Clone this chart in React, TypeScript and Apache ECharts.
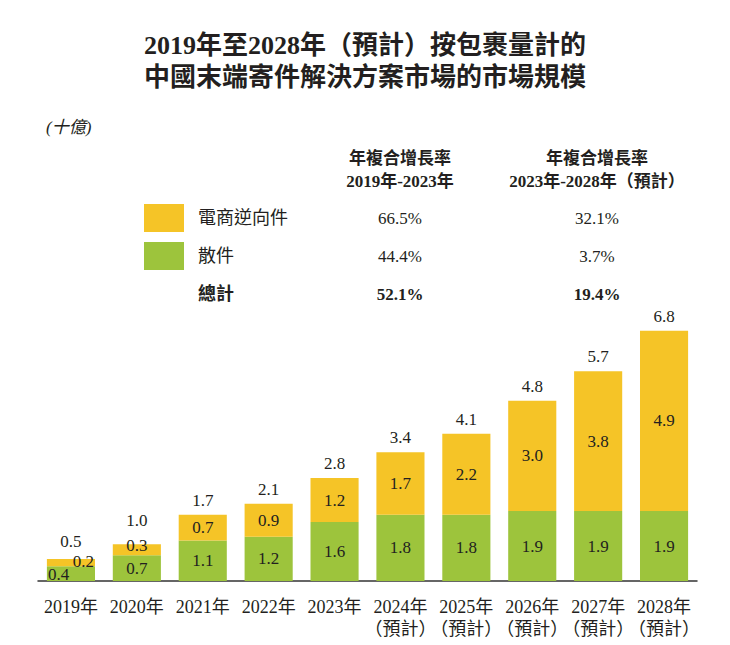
import React, { useEffect, useRef } from "react";
import * as echarts from "echarts";

const categories = ["2019年", "2020年", "2021年", "2022年", "2023年", "2024年\n（預計）", "2025年\n（預計）", "2026年\n（預計）", "2027年\n（預計）", "2028年\n（預計）"];
const parcelValues = [0.4, 0.7, 1.1, 1.2, 1.6, 1.8, 1.8, 1.9, 1.9, 1.9];
const ecomReturnValues = [0.2, 0.3, 0.7, 0.9, 1.2, 1.7, 2.2, 3.0, 3.8, 4.9];
const totals = ["0.5", "1.0", "1.7", "2.1", "2.8", "3.4", "4.1", "4.8", "5.7", "6.8"];

const seriesNames = ["電商逆向件", "散件"];
const cagrHeaders = [["年複合增長率", "2019年-2023年"], ["年複合增長率", "2023年-2028年（預計）"]];
const cagrEcom = ["66.5%", "32.1%"];
const cagrParcel = ["44.4%", "3.7%"];
const cagrTotal = ["52.1%", "19.4%"];

const YELLOW = "#F5C427";
const GREEN = "#9DC43C";
const TEXT = "#231F20";
const SERIF = "'Liberation Serif', 'Times New Roman', 'Noto Sans CJK TC', serif";

export default function App() {
  const ref = useRef<HTMLDivElement>(null);
  useEffect(() => {
    document.body.style.margin = "0";
    if (!ref.current) return;
    const chart = echarts.init(ref.current, undefined, { renderer: "svg" });
    const colX = [400, 597];
    const txt = (text: string, x: number, y: number, size: number, bold = false, align = "center", extra: any = {}) => ({
      type: "text",
      style: { text, x, y, fontSize: size, fontFamily: SERIF, fontWeight: bold ? "bold" : "normal", fill: TEXT, align, verticalAlign: "middle", ...extra },
    });
    const graphic: any[] = [
      txt("2019年至2028年（預計）按包裹量計的", 365, 45, 26, true),
      txt("中國末端寄件解決方案市場的市場規模", 365, 77, 26, true),
      txt("(十億)", 46, 127, 17, false, "left", { fontStyle: "italic" }),
      { type: "rect", shape: { x: 144, y: 204, width: 40, height: 28 }, style: { fill: YELLOW } },
      { type: "rect", shape: { x: 144, y: 242, width: 40, height: 28 }, style: { fill: GREEN } },
      txt(seriesNames[0], 198, 218, 18, false, "left"),
      txt(seriesNames[1], 198, 256, 18, false, "left"),
      txt("總計", 198, 294, 18, true, "left"),
    ];
    for (let i = 0; i < 2; i++) {
      graphic.push(txt(cagrHeaders[i][0], colX[i], 158, 17, true));
      graphic.push(txt(cagrHeaders[i][1], colX[i], 181, 17, true));
      graphic.push(txt(cagrEcom[i], colX[i], 218, 17));
      graphic.push(txt(cagrParcel[i], colX[i], 256, 17));
      graphic.push(txt(cagrTotal[i], colX[i], 294, 17, true));
    }
    const labelBase = { color: TEXT, fontSize: 17, fontFamily: SERIF };
    const fmt = (p: any) => Number(p.value).toFixed(1);
    const greenData = parcelValues.map((v, i) =>
      i === 0
        ? { value: v, label: { position: "insideLeft", offset: [-4, 1] } }
        : v
    );
    const yellowData = ecomReturnValues.map((v, i) =>
      i === 0
        ? { value: v, label: { position: "insideRight", offset: [4, -1] } }
        : i === 1
        ? { value: v, label: { offset: [0, -4] } }
        : v
    );
    const totalData = totals.map((_, i) =>
      i === 0
        ? { value: 0, label: { distance: 9 } }
        : i === 1
        ? { value: 0, label: { distance: 15 } }
        : 0
    );
    chart.setOption({
      animation: false,
      graphic,
      grid: { left: 38, right: 33, top: 305, bottom: 64 },
      xAxis: {
        type: "category",
        data: categories,
        axisLine: { lineStyle: { color: "#333", width: 1.5 } },
        axisTick: { show: false },
        axisLabel: { color: TEXT, fontSize: 18, fontFamily: SERIF, margin: 15, lineHeight: 22, interval: 0 },
      },
      yAxis: { type: "value", min: 0, max: 7.5, show: false, splitLine: { show: false } },
      series: [
        {
          name: seriesNames[1], type: "bar", stack: "t", data: greenData, barWidth: "73%",
          itemStyle: { color: GREEN },
          label: { show: true, position: "inside", ...labelBase, formatter: fmt },
        },
        {
          name: seriesNames[0], type: "bar", stack: "t", data: yellowData, barWidth: "73%",
          itemStyle: { color: YELLOW },
          label: { show: true, position: "inside", ...labelBase, formatter: fmt },
        },
        {
          name: "總計", type: "bar", stack: "t", data: totalData, barWidth: "73%",
          itemStyle: { color: "transparent" },
          label: { show: true, position: "top", distance: 6, ...labelBase, formatter: (p: any) => totals[p.dataIndex] },
        },
      ],
    });
    return () => chart.dispose();
  }, []);
  return <div ref={ref} style={{ width: 730, height: 645 }} />;
}
